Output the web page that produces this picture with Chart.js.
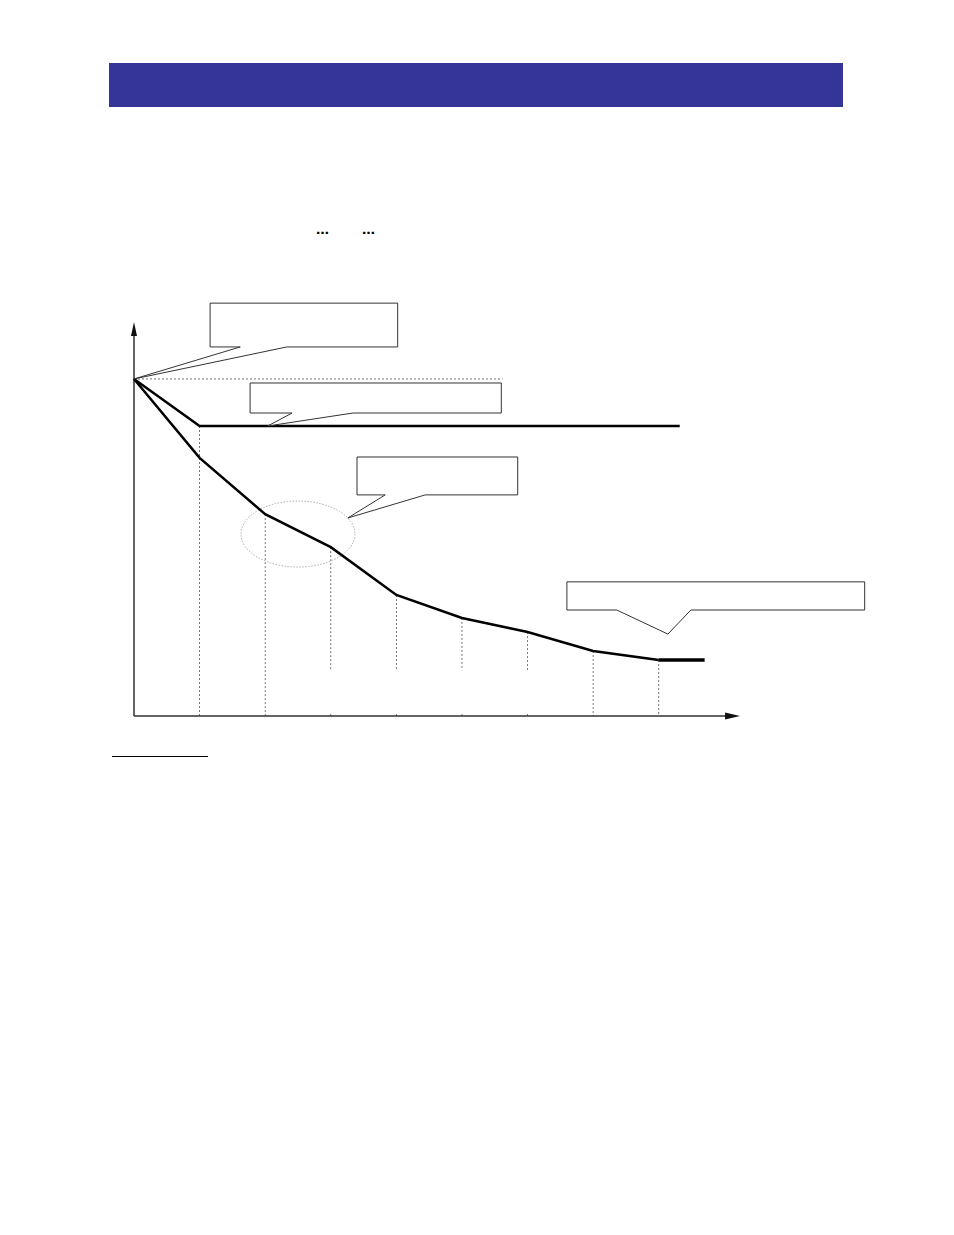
<!DOCTYPE html>
<html lang="en">
<head>
    <meta charset="UTF-8">
    <title>Curve</title>
    <script src="https://cdn.jsdelivr.net/npm/chart.js"></script>
    <style>
        body { margin: 0; background: #fff; font-family: "DejaVu Sans", sans-serif; }
        .header {
            position: absolute; left: 109px; top: 63px;
            width: 734px; height: 44px; background: #353598;
        }
        .dots { position: absolute; top: 222px; font-size: 13px; font-weight: bold; color: #000; }
        .footnote {
            position: absolute; left: 112px; top: 756px;
            width: 96px; height: 1px; background: #000;
        }
        #wrap { position: absolute; left: 0; top: 0; width: 954px; height: 800px; }
    </style>
</head>
<body>
    <div class="header"></div>
    <span class="dots" style="left:316px">…</span>
    <span class="dots" style="left:362px">…</span>
    <div id="wrap"><canvas id="chart" width="954" height="800"></canvas></div>
    <div class="footnote"></div>

    <script>
        // data
        const stepX = [0, 1, 2, 3, 4, 5, 6, 7, 8, 8.7];
        const lowerY = [100, 76.6, 59.9, 50.1, 35.9, 29.1, 24.9, 19.3, 16.6, 16.6];
        const upperX = [0, 1, 8.32];
        const upperY = [100, 86.05, 86.05];

        // dotted guides
        const guideX = [1, 2, 3, 4, 5, 6, 7, 8];
        const guideTop = [86.05, 59.9, 50.1, 35.9, 29.1, 24.9, 19.3, 16.6];
        const guideBottom = [0, 0, 13.6, 13.6, 13.6, 13.6, 0, 0];

        // callout boxes: [x1, yTop, x2, yBottom], pointer base xs, tip
        const calloutBox = [
            [1.16, 122.5, 4.02, 109.5],
            [1.77, 98.8, 5.6, 89.9],
            [3.4, 76.85, 5.85, 65.6],
            [6.6, 39.8, 11.14, 31.45]
        ];
        const calloutBase = [[1.62, 2.33], [2.41, 3.34], [3.83, 4.44], [7.36, 8.49]];
        const calloutTip = [[0, 100], [2.04, 86.05], [3.26, 58.75], [8.14, 24.3]];

        const X_MAX = 9.3, Y_MAX = 116.9, X_ARROW = 9.24;

        const pts = (xs, ys) => xs.map((x, i) => ({ x: x, y: ys[i] }));

        const sketchPlugin = {
            id: 'sketch',
            beforeDatasetsDraw(chart) {
                const { ctx, scales: { x, y } } = chart;
                ctx.save();
                // guide top line
                ctx.strokeStyle = '#555';
                ctx.lineWidth = 0.8;
                ctx.setLineDash([2, 2]);
                ctx.beginPath();
                ctx.moveTo(x.getPixelForValue(0), y.getPixelForValue(100));
                ctx.lineTo(x.getPixelForValue(5.62), y.getPixelForValue(100));
                ctx.stroke();
                guideX.forEach((gx, i) => {
                    const px = x.getPixelForValue(gx);
                    ctx.beginPath();
                    ctx.moveTo(px, y.getPixelForValue(guideTop[i]));
                    ctx.lineTo(px, y.getPixelForValue(guideBottom[i]));
                    ctx.stroke();
                    if (guideBottom[i] > 0) {
                        ctx.beginPath();
                        ctx.moveTo(px, y.getPixelForValue(0));
                        ctx.lineTo(px, y.getPixelForValue(0) - 4);
                        ctx.stroke();
                    }
                });
                // ellipse
                ctx.strokeStyle = '#999';
                ctx.setLineDash([1.5, 1.5]);
                ctx.beginPath();
                ctx.ellipse(x.getPixelForValue(2.5), y.getPixelForValue(54), 57, 33, 0, 0, Math.PI * 2);
                ctx.stroke();
                ctx.setLineDash([]);
                // axes
                const ox = x.getPixelForValue(0), oy = y.getPixelForValue(0);
                const ty = y.getPixelForValue(Y_MAX), tx = x.getPixelForValue(X_ARROW);
                ctx.strokeStyle = '#333';
                ctx.fillStyle = '#111';
                ctx.lineWidth = 1.5;
                ctx.beginPath();
                ctx.moveTo(ox, oy); ctx.lineTo(ox, ty + 8);
                ctx.moveTo(ox, oy); ctx.lineTo(tx - 10, oy);
                ctx.stroke();
                ctx.beginPath();
                ctx.moveTo(ox, ty); ctx.lineTo(ox - 3, ty + 14); ctx.lineTo(ox + 3, ty + 14); ctx.closePath();
                ctx.fill();
                ctx.beginPath();
                ctx.moveTo(tx, oy); ctx.lineTo(tx - 15, oy - 3.5); ctx.lineTo(tx - 15, oy + 3.5); ctx.closePath();
                ctx.fill();
                ctx.restore();
            },
            afterDatasetsDraw(chart) {
                const { ctx, scales: { x, y } } = chart;
                ctx.save();
                ctx.strokeStyle = '#333';
                ctx.fillStyle = '#fff';
                ctx.lineWidth = 1;
                calloutBox.forEach((b, i) => {
                    const x1 = x.getPixelForValue(b[0]), y1 = y.getPixelForValue(b[1]);
                    const x2 = x.getPixelForValue(b[2]), y2 = y.getPixelForValue(b[3]);
                    const ba = x.getPixelForValue(calloutBase[i][0]);
                    const bb = x.getPixelForValue(calloutBase[i][1]);
                    const tx = x.getPixelForValue(calloutTip[i][0]);
                    const ty = y.getPixelForValue(calloutTip[i][1]);
                    ctx.beginPath();
                    ctx.moveTo(x1, y1);
                    ctx.lineTo(x2, y1);
                    ctx.lineTo(x2, y2);
                    ctx.lineTo(bb, y2);
                    ctx.lineTo(tx, ty);
                    ctx.lineTo(ba, y2);
                    ctx.lineTo(x1, y2);
                    ctx.closePath();
                    ctx.fill();
                    ctx.stroke();
                });
                ctx.restore();
            }
        };

        new Chart(document.getElementById('chart').getContext('2d'), {
            type: 'line',
            data: {
                datasets: [{
                    data: pts(upperX, upperY),
                    borderColor: '#000',
                    borderWidth: 2.5,
                    pointRadius: 0,
                    fill: false,
                    clip: false
                }, {
                    data: pts(stepX, lowerY),
                    borderColor: '#000',
                    borderWidth: 2.5,
                    pointRadius: 0,
                    fill: false,
                    clip: false,
                    segment: {
                        borderWidth: c => c.p0DataIndex === stepX.length - 2 ? 3.5 : 2.5
                    }
                }]
            },
            options: {
                responsive: false,
                animation: false,
                layout: { padding: { left: 134, right: 210, top: 322, bottom: 84 } },
                plugins: { legend: { display: false }, tooltip: { enabled: false } },
                scales: {
                    x: { type: 'linear', min: 0, max: X_MAX, display: false },
                    y: { type: 'linear', min: 0, max: Y_MAX, display: false }
                }
            },
            plugins: [sketchPlugin]
        });
    </script>
</body>
</html>
